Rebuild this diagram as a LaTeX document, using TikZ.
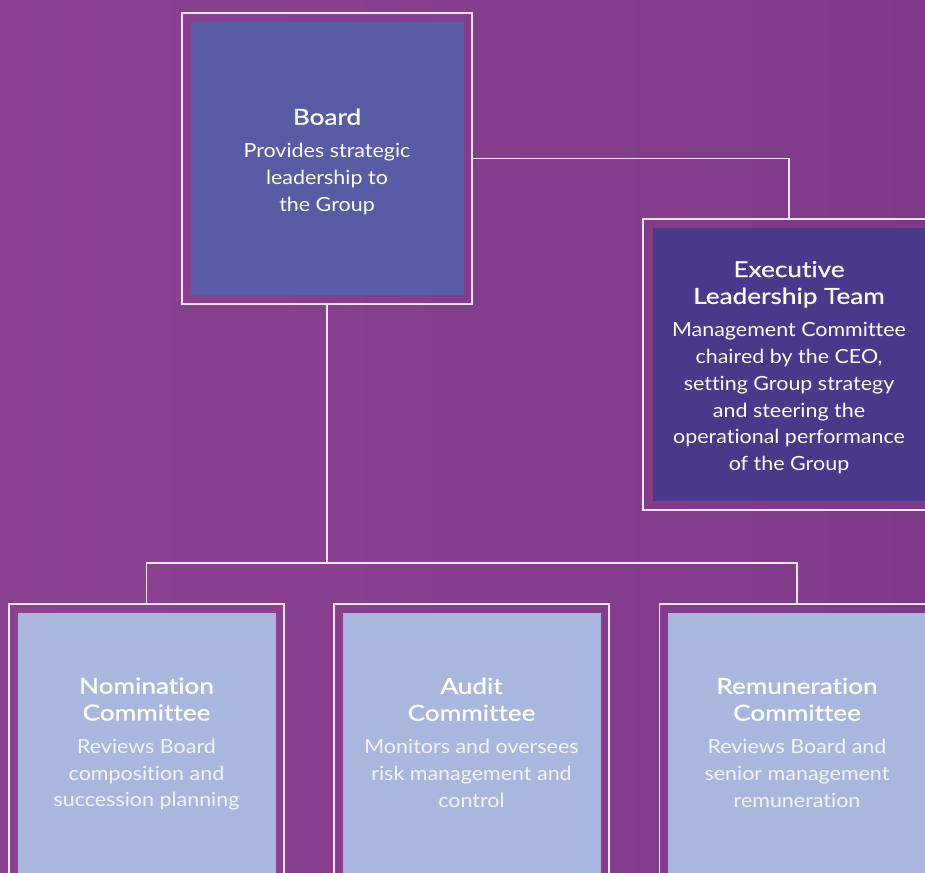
\documentclass[tikz,border=0pt]{standalone}
\usepackage{fontspec}
\setmainfont{Lato}[Ligatures=NoCommon, FakeStretch=1.1]
\newfontfamily\headfam{Lato}[Ligatures=NoCommon, FakeStretch=1.19, FakeBold=0.9]
\usetikzlibrary{positioning}

\definecolor{bgleft}{HTML}{8C4291}
\definecolor{bgright}{HTML}{7E3A89}
\definecolor{boardfill}{HTML}{585CA4}
\definecolor{eltfill}{HTML}{4A388B}
\definecolor{cmtfill}{HTML}{A9B7DF}
\definecolor{linecol}{HTML}{F1E6F2}
\definecolor{softwhite}{HTML}{F3F4FB}

\newcommand{\headf}{\headfam\fontsize{22}{26.5}\selectfont}
\newcommand{\bodyf}{\fontsize{19.5}{26.8}\selectfont}

\tikzset{
  x=1pt, y=-1pt,
  outline/.style={draw=linecol, line width=1.4pt, inner sep=0pt, outer sep=0pt},
  panel/.style={fill=#1, draw=none, inner sep=0pt, outer sep=0pt},
  label text/.style={align=center, inner sep=0pt, text=white, font=\bodyf},
  link/.style={draw=linecol, line width=1.4pt},
}

\begin{document}
\begin{tikzpicture}
  \useasboundingbox (0,0) rectangle (925,872);
  \clip (0,0) rectangle (925,872);
  \shade[left color=bgleft, right color=bgright] (0,0) rectangle (925,872);

  % Board
  \node[outline, minimum width=290, minimum height=291] (boardF) at (327,158.5) {};
  \node[panel=boardfill, minimum width=273, minimum height=273] (board) at (327,158.5) {};
  \node[label text] (boardT) at ([yshift=-3pt]board.center)
    {{\headf Board}\\[6pt]Provides strategic\\leadership to\\the Group};

  % Executive Leadership Team
  \node[outline, minimum width=292, minimum height=291] (eltF) at (789,364.5) {};
  \node[panel=eltfill, minimum width=272, minimum height=273] (elt) at (789,364.5) {};
  \node[label text] (eltT) at ([yshift=-3pt]elt.center)
    {{\headf Executive}\\{\headf Leadership Team}\\[6pt]Management Committee\\chaired by the CEO,\\setting Group strategy\\and steering the\\operational performance\\of the Group};

  % Committees
  \node[outline, minimum width=275, minimum height=280] (nomF) at (146.5,744) {};
  \node[panel=cmtfill, minimum width=258, minimum height=262] (nom) at (146.5,744) {};
  \node[label text] (nomT) at (nom.center)
    {{\headf Nomination}\\{\headf Committee}\\[6pt]{\color{softwhite}Reviews Board}\\{\color{softwhite}composition and}\\{\color{softwhite}succession planning}};

  \node[outline, minimum width=275, minimum height=280] (audF) at (471.5,744) {};
  \node[panel=cmtfill, minimum width=258, minimum height=262] (aud) at (471.5,744) {};
  \node[label text] (audT) at ([yshift=1.5pt]aud.center)
    {{\headf Audit}\\{\headf Committee}\\[6pt]{\color{softwhite}Monitors and oversees}\\{\color{softwhite}risk management and}\\{\color{softwhite}control}};

  \node[outline, minimum width=275, minimum height=280] (remF) at (797,744) {};
  \node[panel=cmtfill, minimum width=258, minimum height=262] (rem) at (797,744) {};
  \node[label text] (remT) at ([yshift=1.5pt]rem.center)
    {{\headf Remuneration}\\{\headf Committee}\\[6pt]{\color{softwhite}Reviews Board and}\\{\color{softwhite}senior management}\\{\color{softwhite}remuneration}};

  % Connectors
  \coordinate (bus) at (327,563);
  \draw[link] (boardF.east) -| (eltF.north);
  \draw[link] (boardF.south) -- (bus);
  \draw[link] (nomF.north) |- (bus) -| (remF.north);
\end{tikzpicture}
\end{document}
